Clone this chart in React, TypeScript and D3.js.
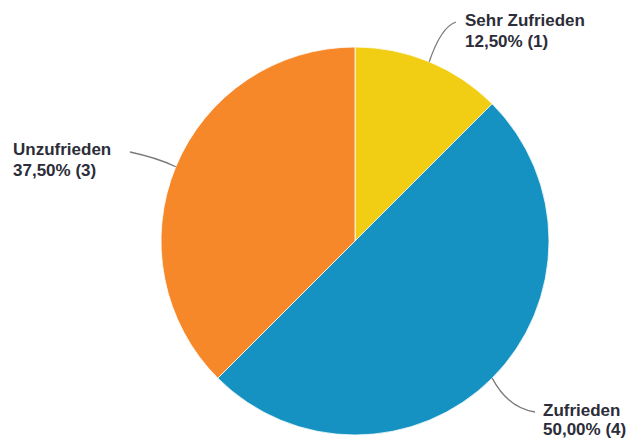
import React from "react";
import * as d3 from "d3";

const categories = ["Sehr Zufrieden", "Zufrieden", "Unzufrieden"];
const counts = [1, 4, 3];
const percentLabels = ["12,50% (1)", "50,00% (4)", "37,50% (3)"];
const colors = ["#F1CD14", "#1592C2", "#F7882A"];

const W = 630;
const H = 438;
const cx = 355;
const cy = 241;
const R = 194;

// label layout: text anchor position, line gap, leader end, control point
const labelLayout = [
  { tx: 465, ty: 26, gap: 21, end: [456, 22], ctrl: [441, 27] },
  { tx: 543, ty: 416, gap: 19, end: [535, 412], ctrl: [508, 408] },
  { tx: 13, ty: 155, gap: 21, end: [130, 152], ctrl: [158, 158] },
];

export default function App() {
  const pie = d3
    .pie<number>()
    .sort(null)
    .value((d) => d)
    .startAngle(0)
    .endAngle(2 * Math.PI);
  const arcs = pie(counts);
  const arc = d3.arc<d3.PieArcDatum<number>>().innerRadius(0).outerRadius(R);

  return (
    <svg
      width={W}
      height={H}
      style={{ position: "absolute", left: 0, top: 0, background: "#fff" }}
    >
      <g transform={`translate(${cx},${cy})`}>
        {arcs.map((a, i) => (
          <path key={i} d={arc(a) || ""} fill={colors[i]} stroke="#fff" strokeWidth={0.8} />
        ))}
      </g>
      {arcs.map((a, i) => {
        const mid = (a.startAngle + a.endAngle) / 2;
        const sx = cx + Math.sin(mid) * R;
        const sy = cy - Math.cos(mid) * R;
        const L = labelLayout[i];
        const p = d3.path();
        p.moveTo(sx, sy);
        p.quadraticCurveTo(L.ctrl[0], L.ctrl[1], L.end[0], L.end[1]);
        return (
          <g key={"l" + i}>
            <path d={p.toString()} fill="none" stroke="#7a7a7a" strokeWidth={1.3} />
            <text
              x={L.tx}
              y={L.ty}
              textAnchor="start"
              fontFamily="'Liberation Sans', Arial, sans-serif"
              fontWeight="bold"
              fontSize={17}
              fill="#2c2d38"
            >
              <tspan x={L.tx}>{categories[i]}</tspan>
              <tspan x={L.tx} dy={L.gap}>
                {percentLabels[i]}
              </tspan>
            </text>
          </g>
        );
      })}
    </svg>
  );
}
